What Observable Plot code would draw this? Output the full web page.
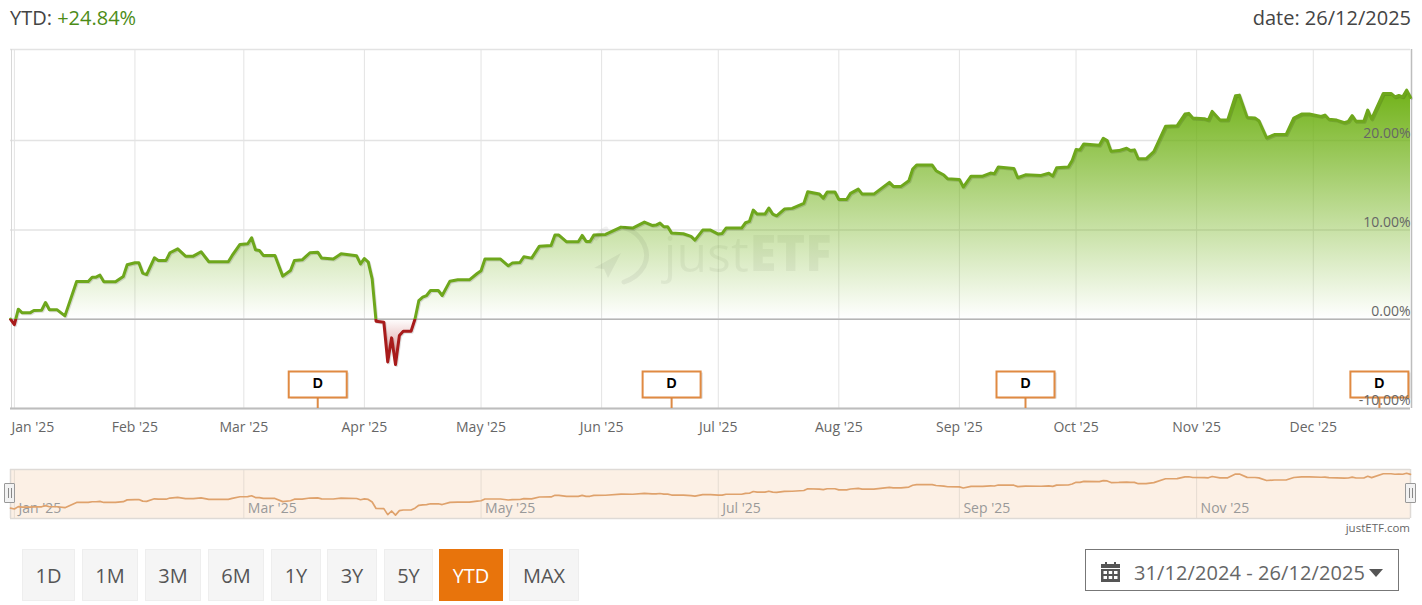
<!DOCTYPE html>
<html>
<head>
<meta charset="utf-8">
<script src="https://cdn.jsdelivr.net/npm/d3@7"></script>
<script src="https://cdn.jsdelivr.net/npm/@observablehq/plot@0.6"></script>
<style>
  html,body{margin:0;padding:0;background:#fff;width:1422px;height:605px;overflow:hidden;font-family:"Open Sans",sans-serif;color:#555}
  .abs{position:absolute}
  #main{left:0;top:0}
  #nav{left:0;top:460px}
  .hdr{font-size:20px;top:5px;line-height:26px;color:#444}
  .btn{top:549px;height:52px;line-height:52px;text-align:center;font-size:20px;color:#555;background:#f5f5f5;border:1px solid #eee;box-sizing:border-box}
  .btn.on{background:#e8740c;border-color:#e8740c;color:#fff}
  .handle{top:483px;width:11px;height:20px;box-sizing:border-box;background:#f2f2f2;border:1px solid #999;border-radius:1px}
  .handle:after{content:"";position:absolute;left:3px;top:4px;width:1px;height:10px;border-left:1px solid #888;border-right:1px solid #888;padding-left:1px}
  #picker{left:1085px;top:549px;width:314px;height:42px;box-sizing:border-box;border:1px solid #777}
</style>
</head>
<body>
<div class="abs hdr" style="left:10px">YTD: <span style="color:#4c8c17">+24.84%</span></div>
<div class="abs hdr" style="right:11px">date: 26/12/2025</div>
<div id="main" class="abs"></div>
<svg class="abs" style="left:587px;top:222px;pointer-events:none" width="68" height="66" viewBox="0 0 68 66">
  <g fill="none" stroke="#000" stroke-opacity="0.055" stroke-width="5" stroke-linecap="round">
    <path d="M38 6C56 12 64 30 57 44C52 53 46 57 37 60"/>
    <path d="M9 16C12 11 15 9 19 7"/>
  </g>
  <path fill="#000" fill-opacity="0.055" d="M7 46L34 31L21 56L17 47z"/>
</svg>
<div id="nav" class="abs"></div>
<div class="abs handle" style="left:4px"></div>
<div class="abs handle" style="left:1405px"></div>
<div class="abs" style="right:12px;top:519px;font-size:11.5px;line-height:17px;color:#666">justETF.com</div>
<div id="buttons"></div>
<div id="picker" class="abs">
  <svg class="abs" style="left:15px;top:12px" width="19" height="20" viewBox="0 0 19 20"><path fill="#555" d="M4 0h2v3H4zM13 0h2v3h-2zM0 2h19v4H0zM0 7h19v13H0z"/><g fill="#fff"><rect x="2.5" y="9" width="3.5" height="3"/><rect x="7.7" y="9" width="3.5" height="3"/><rect x="13" y="9" width="3.5" height="3"/><rect x="2.5" y="14" width="3.5" height="3"/><rect x="7.7" y="14" width="3.5" height="3"/><rect x="13" y="14" width="3.5" height="3"/></g></svg>
  <div class="abs" style="left:48px;top:0;line-height:45px;font-size:20px;letter-spacing:0.08px;color:#666;white-space:nowrap">31/12/2024 - 26/12/2025</div>
  <svg class="abs" style="left:283px;top:19px" width="14" height="8" viewBox="0 0 14 8"><path fill="#555" d="M0 0h14L7 8z"/></svg>
</div>
<script>
// Data: days since the start date, and YTD return in %
const startDate = "2024-12-31";
const dayOffsets = [0,1,2,3,5,6,8,9,10,12,14,17,20,21,22,23,24,27,29,30,32,33,34,35,37,38,40,41,43,45,47,49,51,56,57,59,61,62,63,64,65,68,70,72,73,75,77,79,80,83,85,89,90,91,92,93,94,96,97,98,99,100,101,103,104,105,106,107,108,110,111,113,115,118,120,121,122,126,128,129,131,132,134,136,139,140,141,143,146,147,148,149,150,153,157,160,163,165,166,167,168,169,170,173,175,176,178,180,182,183,184,188,189,190,191,192,194,195,196,197,199,201,204,205,208,209,210,212,213,215,216,218,219,222,226,227,229,231,232,233,237,238,240,241,244,245,247,250,252,253,254,258,259,261,265,267,268,269,272,273,274,275,276,280,281,282,283,285,287,288,289,290,292,294,297,300,302,303,304,307,308,309,311,313,315,316,318,320,321,323,325,328,330,332,334,337,338,339,341,343,344,345,346,348,349,350,353,355,356,357,358,359,360];
const ytdValues = [0,-0.6,1.12,0.71,0.71,0.97,1.0,1.87,1.05,1.05,0.37,4.22,4.22,4.71,4.71,4.93,4.19,4.19,4.78,6.09,6.32,6.32,5.16,5.0,6.88,6.58,6.58,7.44,7.88,7.06,7.06,7.55,6.43,6.43,7.14,8.37,8.45,9.12,7.77,7.7,7.14,7.14,4.82,5.46,6.58,6.65,7.44,7.51,6.84,6.73,7.32,7.1,6.2,6.8,6.39,4.52,-0.22,-0.34,-4.78,-2.09,-5.08,-1.83,-1.35,-1.35,0,2.09,2.47,2.65,3.21,3.21,2.65,4.26,4.41,4.41,5.12,5.42,6.73,6.73,5.98,6.28,6.35,6.99,6.84,8.18,8.26,9.42,9.42,8.67,8.67,9.38,8.71,8.71,9.42,9.49,10.31,10.2,10.87,10.5,10.54,10.76,10.35,10.35,9.64,9.57,9.27,8.86,9.98,9.98,9.53,9.6,10.2,10.2,10.8,10.95,12.22,11.77,11.77,12.44,11.77,11.58,12.33,12.41,12.97,14.27,14.01,13.56,14.24,14.24,13.41,13.41,14.09,14.57,14.01,14.01,15.32,14.87,14.87,15.51,16.82,17.26,17.26,16.63,16.14,15.72,15.65,14.8,16.02,16.02,16.36,16.28,17.03,16.88,15.84,16.17,16.1,16.35,16.02,16.95,17.03,17.77,19.0,18.96,19.63,19.48,20.26,20.0,18.81,18.88,19.14,18.88,18.96,17.96,17.96,18.77,21.6,21.67,22.97,23.05,22.53,22.45,22.3,23.27,22.3,22.3,25.02,25.09,22.6,22.53,22.23,20.3,20.67,20.67,22.53,22.97,22.97,22.71,22.86,22.38,22.3,22.0,22.16,22.79,22.16,22.16,23.42,22.42,25.28,25.28,24.9,25.05,24.9,25.65,24.84];
const monthTicks = ["2025-01-01","2025-02-01","2025-03-01","2025-04-01","2025-05-01","2025-06-01","2025-07-01","2025-08-01","2025-09-01","2025-10-01","2025-11-01","2025-12-01"];
const navTicks = ["2025-01-01","2025-03-01","2025-05-01","2025-07-01","2025-09-01","2025-11-01"];
const yTicks = [-10,0,10,20];
const distributionDates = ["2025-03-20","2025-06-19","2025-09-18","2025-12-18"];
const rangeButtons = ["1D","1M","3M","6M","1Y","3Y","5Y","YTD","MAX"];
const activeButton = "YTD";

const buttonBoxes = [[22,53],[82,56],[145,56],[208,56],[271,50],[327,50],[384,49],[439,64],[509,70]];
rangeButtons.forEach((b,i)=>{
  const el=document.createElement("div");
  el.className="abs btn"+(b===activeButton?" on":"");
  el.style.left=buttonBoxes[i][0]+"px"; el.style.width=buttonBoxes[i][1]+"px";
  el.textContent=b; document.body.appendChild(el);
});

const date = s => new Date(s+"T00:00:00Z");
const start = date(startDate);
const series = dayOffsets.map((d,i)=>({date:d3.utcDay.offset(start,d),value:ytdValues[i]}));
const months = monthTicks.map(date), navMonths = navTicks.map(date), flags = distributionDates.map(date);
const fmtMonth = d3.utcFormat("%b '%y");
const xDomain = [start, series[series.length-1].date];
const font = '"Open Sans",sans-serif';
const maxV = d3.max(ytdValues), minV = d3.min(ytdValues);
const flagBox = {draw(c){c.rect(-29,-13,58,26);}};

function gradients(index,{y}){
  const defs=d3.create("svg:defs");
  const off=maxV/(maxV-minV);
  const mk=(id,stops)=>{
    const g=defs.append("linearGradient").attr("id",id).attr("gradientUnits","userSpaceOnUse")
      .attr("x1",0).attr("x2",0).attr("y1",y(maxV)).attr("y2",y(minV));
    stops.forEach(([o,c,a])=>g.append("stop").attr("offset",o).attr("stop-color",c).attr("stop-opacity",a));
  };
  mk("areaGrad",[[0,"#6db012",0.97],[off,"#6db012",0],[off,"#b01c1c",0],[1,"#b01c1c",0.55]]);
  mk("lineGrad",[[0,"#6ea71c",1],[off,"#6ea71c",1],[off,"#a81b1b",1],[1,"#a81b1b",1]]);
  return defs.node();
}

const main = Plot.plot({
  width:1422,height:442,marginTop:49,marginBottom:34,marginLeft:10,marginRight:12,
  style:{fontFamily:font,fontSize:"14px",background:"transparent"},
  x:{type:"utc",domain:xDomain,axis:null},
  y:{domain:[-10,30.2],axis:null},
  marks:[
    gradients,
    Plot.gridX(months,{stroke:"#e3e3e3",strokeOpacity:1}),
    Plot.gridY(yTicks,{stroke:"#e3e3e3",strokeOpacity:1,strokeWidth:1.5}),
    Plot.ruleY([30.2],{stroke:"#e3e3e3",strokeWidth:1.5}),
    Plot.ruleX([xDomain[0]],{stroke:"#d8d8d8",dx:1}),
    Plot.ruleX([xDomain[1]],{stroke:"#bdbdbd",strokeWidth:1.5,dx:1}),
    Plot.text(["just"],{x:()=>date("2025-06-17"),y:()=>7.1,text:d=>d,textAnchor:"start",fontSize:50,fill:"#000",fillOpacity:0.055}),
    Plot.text(["ETF"],{x:()=>date("2025-07-09"),y:()=>7.1,text:d=>d,textAnchor:"start",fontSize:49,fontWeight:800,fill:"#000",fillOpacity:0.055}),
    Plot.areaY(series,{x:"date",y1:0,y2:"value",fill:"url(#areaGrad)"}),
    Plot.lineY(series,{x:"date",y:"value",stroke:"#000",strokeOpacity:0.13,strokeWidth:3,dx:1,dy:1}),
    Plot.ruleY([0],{stroke:"#b5b5b5",strokeWidth:1.5}),
    Plot.ruleY([-10],{stroke:"#bdbdbd",strokeWidth:2}),
    Plot.lineY(series,{x:"date",y:"value",stroke:"url(#lineGrad)",strokeWidth:3,strokeLinejoin:"round"}),
    Plot.ruleX(flags,{x:d=>d,y1:-10,y2:-8.8,stroke:"#dd8a45",strokeWidth:2}),
    Plot.dot(flags,{x:d=>d,frameAnchor:"bottom",dy:-23,dx:2,symbol:flagBox,fill:"#000",fillOpacity:0.15,stroke:"none"}),
    Plot.dot(flags,{x:d=>d,frameAnchor:"bottom",dy:-24,symbol:flagBox,fill:"#fff",stroke:"#e08a42",strokeWidth:2}),
    Plot.text(flags,{x:d=>d,frameAnchor:"bottom",dy:-25,lineAnchor:"middle",text:()=>"D",fontWeight:700,fontSize:14,fontFamily:'"Liberation Sans",sans-serif',fill:"#000"}),
    Plot.text(yTicks,{y:d=>d,frameAnchor:"right",textAnchor:"end",dy:-7.5,text:d=>d.toFixed(2)+"%",fill:"#666",fontSize:14}),
    Plot.axisX(months.slice(1),{anchor:"bottom",tickSize:0,tickPadding:14,tickFormat:fmtMonth,color:"#666",fontSize:14,label:null}),
    Plot.axisX(months.slice(0,1),{anchor:"bottom",tickSize:0,tickPadding:14,tickFormat:fmtMonth,color:"#666",fontSize:14,label:null,textAnchor:"start",dx:-3})
  ]
});
document.getElementById("main").appendChild(main);

const nav = Plot.plot({
  width:1422,height:60,marginTop:9,marginBottom:2,marginLeft:10,marginRight:12,
  style:{fontFamily:font,fontSize:"14px",background:"transparent"},
  x:{type:"utc",domain:xDomain,axis:null},
  y:{domain:[-7.6,28.4],axis:null},
  marks:[
    Plot.rectY([0],{x1:()=>xDomain[0],x2:()=>xDomain[1],y1:-7.6,y2:28.4,fill:"#fcf0e5"}),
    Plot.gridX(navMonths,{stroke:"#e6dcd2",strokeOpacity:1}),
    Plot.ruleY([28.4],{stroke:"#dedad6",strokeWidth:1.5}),
    Plot.ruleY([-7.6],{stroke:"#dedad6",strokeWidth:1.5}),
    Plot.ruleX([xDomain[0]],{stroke:"#dedad6",strokeWidth:1.5}),
    Plot.ruleX([xDomain[1]],{stroke:"#dedad6",strokeWidth:1.5}),
    Plot.text(navMonths,{x:d=>d,frameAnchor:"bottom",dy:-6,dx:4,textAnchor:"start",text:fmtMonth,fill:"#999",fontSize:14}),
    Plot.lineY(series,{x:"date",y:"value",stroke:"#dfa26c",strokeWidth:1.7})
  ]
});
document.getElementById("nav").appendChild(nav);
</script>
</body>
</html>
